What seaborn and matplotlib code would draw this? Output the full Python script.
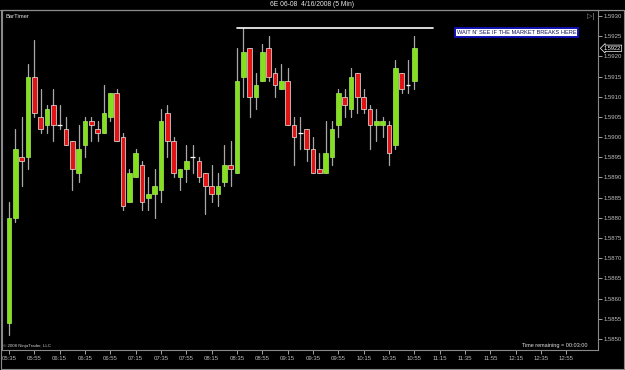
import matplotlib
matplotlib.use("Agg")
import matplotlib.pyplot as plt
from matplotlib.lines import Line2D
from matplotlib.patches import Rectangle
import numpy as np
import pandas as pd
import seaborn as sns

# ---------------- data ----------------
start_time = "2008-04-16 05:35"
n_bars = 65
bar_times = pd.date_range(start_time, periods=n_bars, freq="5min").strftime("%H:%M").tolist()

opens = [1.5854, 1.5880, 1.5895, 1.5895, 1.5915, 1.5905, 1.5903, 1.5908, 1.5903, 1.5902,
         1.5899, 1.5891, 1.5898, 1.5904, 1.5902, 1.5901, 1.5905, 1.5911, 1.5900, 1.5884,
         1.5890, 1.5893, 1.5885, 1.5886, 1.5887, 1.5906, 1.5899, 1.5890, 1.5892, 1.5895,
         1.5894, 1.5891, 1.5888, 1.5886, 1.5889, 1.5893, 1.5891, 1.5915, 1.5922, 1.5910,
         1.5914, 1.5922, 1.5916, 1.5912, 1.5914, 1.5903, 1.5901, 1.5902, 1.5897, 1.5892,
         1.5891, 1.5895, 1.5903, 1.5910, 1.5907, 1.5916, 1.5910, 1.5907, 1.5903, 1.5903,
         1.5903, 1.5898, 1.5916, 1.5913, 1.5914]
highs = [1.5884, 1.5902, 1.5905, 1.5918, 1.5924, 1.5912, 1.5908, 1.5912, 1.5908, 1.5905,
         1.5899, 1.5903, 1.5905, 1.5905, 1.5904, 1.5913, 1.5911, 1.5912, 1.5901, 1.5892,
         1.5897, 1.5894, 1.5890, 1.5892, 1.5907, 1.5908, 1.5900, 1.5892, 1.5898, 1.5898,
         1.5895, 1.5891, 1.5893, 1.5891, 1.5898, 1.5899, 1.5922, 1.5927, 1.5922, 1.5916,
         1.5923, 1.5925, 1.5917, 1.5918, 1.5917, 1.5905, 1.5905, 1.5902, 1.5900, 1.5896,
         1.5904, 1.5904, 1.5912, 1.5912, 1.5917, 1.5916, 1.5912, 1.5908, 1.5907, 1.5905,
         1.5904, 1.5919, 1.5916, 1.5919, 1.5925]
lows = [1.5851, 1.5879, 1.5888, 1.5892, 1.5905, 1.5901, 1.5901, 1.5899, 1.5902, 1.5898,
        1.5887, 1.5889, 1.5895, 1.5899, 1.5899, 1.5901, 1.5904, 1.5899, 1.5882, 1.5884,
        1.5890, 1.5882, 1.5882, 1.5880, 1.5884, 1.5895, 1.5890, 1.5887, 1.5889, 1.5891,
        1.5889, 1.5881, 1.5884, 1.5883, 1.5888, 1.5888, 1.5891, 1.5910, 1.5905, 1.5907,
        1.5914, 1.5914, 1.5910, 1.5912, 1.5903, 1.5893, 1.5897, 1.5894, 1.5891, 1.5891,
        1.5891, 1.5893, 1.5900, 1.5905, 1.5905, 1.5906, 1.5906, 1.5897, 1.5899, 1.5900,
        1.5893, 1.5897, 1.5911, 1.5911, 1.5912]
closes = [1.5880, 1.5897, 1.5894, 1.5915, 1.5906, 1.5902, 1.5907, 1.5903, 1.5903, 1.5898,
          1.5892, 1.5897, 1.5904, 1.5903, 1.5901, 1.5906, 1.5911, 1.5899, 1.5883, 1.5891,
          1.5896, 1.5884, 1.5886, 1.5888, 1.5904, 1.5899, 1.5891, 1.5892, 1.5894, 1.5895,
          1.5890, 1.5888, 1.5886, 1.5888, 1.5893, 1.5892, 1.5914, 1.5921, 1.5910, 1.5913,
          1.5921, 1.5915, 1.5913, 1.5914, 1.5903, 1.5900, 1.5901, 1.5897, 1.5891, 1.5891,
          1.5896, 1.5902, 1.5911, 1.5908, 1.5915, 1.5910, 1.5907, 1.5903, 1.5904, 1.5904,
          1.5896, 1.5917, 1.5912, 1.5913, 1.5922]

time_tick_labels = ["05:35", "05:55", "06:15", "06:35", "06:55", "07:15", "07:35", "07:55",
                    "08:15", "08:35", "08:55", "09:15", "09:35", "09:55", "10:15", "10:35",
                    "10:55", "11:15", "11:35", "11:55", "12:15", "12:35", "12:55"]
price_ticks = [1.5850, 1.5855, 1.5860, 1.5865, 1.5870, 1.5875, 1.5880, 1.5885, 1.5890,
               1.5895, 1.5900, 1.5905, 1.5910, 1.5915, 1.5920, 1.5925, 1.5930]

resistance_price = 1.5927
resistance_from = "08:35"
resistance_to = "11:10"
last_price = 1.5922
note_text = "WAIT N' SEE IF THE MARKET BREAKS HERE"
title_text = "6E 06-08  4/16/2008 (5 Min)"

# ---------------- helpers ----------------
t0 = pd.Timestamp(start_time)
def tpos(hhmm):
    return (pd.Timestamp("2008-04-16 " + hhmm) - t0) / pd.Timedelta("5min")

df = pd.DataFrame({"time": bar_times, "open": opens, "high": highs,
                   "low": lows, "close": closes})
df["x"] = [tpos(t) for t in df["time"]]

# ---------------- figure ----------------
sns.set_theme(style="dark", rc={"axes.facecolor": "black", "figure.facecolor": "black"})
plt.rcParams["font.family"] = ["Liberation Sans", "DejaVu Sans"]

W, H = 625, 370
fig = plt.figure(figsize=(W / 100, H / 100), dpi=100, facecolor="black")
ax = fig.add_axes([2 / W, 1 - 350 / H, (597.5 - 2) / W, (350 - 10) / H])
ax.set_facecolor("black")

# wicks via seaborn
wick = pd.concat([
    df[["x", "low"]].rename(columns={"low": "price"}).assign(bar=df.index),
    df[["x", "high"]].rename(columns={"high": "price"}).assign(bar=df.index),
])
sns.lineplot(data=wick, x="x", y="price", units="bar", estimator=None,
             color="#a8a8a8", lw=0.9, ax=ax, legend=False, sort=True, zorder=2)

up = df[df["close"] > df["open"]]
dn = df[df["close"] < df["open"]]
dj = df[df["close"] == df["open"]]
bw = 0.74
ax.bar(up["x"], up["close"] - up["open"], bottom=up["open"], width=bw,
       color="#84e01c", edgecolor="#a6ea5c", linewidth=0.5, zorder=3)
ax.bar(dn["x"], dn["open"] - dn["close"], bottom=dn["close"], width=bw,
       color="#e01414", edgecolor="#ececec", linewidth=0.5, zorder=3)
ax.hlines(dj["close"], dj["x"] - bw / 2, dj["x"] + bw / 2, color="white", lw=0.9, zorder=3)

# resistance line
ax.plot([tpos(resistance_from), tpos(resistance_to)], [resistance_price] * 2,
        color="white", lw=1.2, zorder=4)

# note box
ax.text(80.1, 1.59259, note_text, ha="center", va="center", fontsize=4.1,
        color="#101060", zorder=5,
        bbox=dict(boxstyle="square,pad=0.3", fc="white", ec="#1010b0", lw=1.4))

# axes limits
ax.set_xlim(-1.105, 92.9)
ax.set_ylim(1.584728, 1.593148)

ax.yaxis.tick_right()
ax.set_yticks(price_ticks)
ax.set_yticklabels([f"{p:.4f}" for p in price_ticks])
ax.set_xticks([tpos(t) for t in time_tick_labels])
ax.set_xticklabels(time_tick_labels)
ax.tick_params(axis="both", colors="#bdbdbd", labelsize=4.3, length=3, width=0.6,
               direction="out", pad=1.2)
ax.tick_params(axis="y", right=True, left=False)
ax.tick_params(axis="x", bottom=True)
ax.set_xlabel("")
ax.set_ylabel("")
ax.grid(False)
for s in ax.spines.values():
    s.set_visible(True)
    s.set_color("#8a8a8a")
    s.set_linewidth(0.8)

# current price tag
ax.annotate(f"{last_price:.4f}", xy=(1.0, last_price), xycoords=("axes fraction", "data"),
            xytext=(4.5, 0), textcoords="offset points", ha="left", va="center",
            fontsize=4.1, color="white", zorder=6, annotation_clip=False,
            bbox=dict(boxstyle="larrow,pad=0.12", fc="black", ec="white", lw=0.5))

# figure texts
def fx(x): return x / W
def fy(y): return 1 - y / H

fig.text(fx(312.5), fy(4.8), title_text, ha="center", va="center", fontsize=4.9, color="#e8e8e8")
fig.text(fx(5), fy(17), "BarTimer", ha="left", va="center", fontsize=4.2, color="#e0e0e0")
fig.text(fx(595), fy(16.5), "▷|", ha="right", va="center", fontsize=5.0, color="#9a9a9a",
         family=["DejaVu Sans"])
fig.text(fx(3), fy(345.5), "© 2008 NinjaTrader, LLC", ha="left", va="center",
         fontsize=3.2, color="#cfcfcf")
fig.text(fx(588), fy(345.5), "Time remaining = 00:03:00", ha="right", va="center",
         fontsize=4.0, color="#e0e0e0")

# frame lines
fig.add_artist(Line2D([0, 1], [fy(10), fy(10)], transform=fig.transFigure,
                      color="#8a8a8a", lw=0.8))
fig.add_artist(Rectangle((fx(0.5), fy(368.5)), fx(623.5), fy(10) - fy(368.5),
                         transform=fig.transFigure, fill=False, ec="#8a8a8a", lw=0.8))

fig.savefig("out.png", dpi=100, facecolor="black")
